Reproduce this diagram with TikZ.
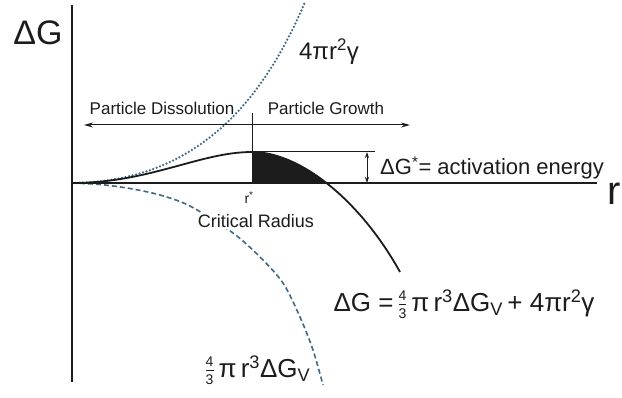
\documentclass[tikz,border=0pt]{standalone}
\usepackage{fontspec}
\setmainfont{Liberation Sans}
\usetikzlibrary{arrows.meta}
\definecolor{inkc}{RGB}{28,28,28}
\definecolor{termc}{RGB}{66,104,130}
\newcommand{\fsz}[1]{\fontsize{#1}{#1}\selectfont}
\newcommand{\frthird}{$\vcenter{\hbox{\fsz{14}4}\kern3.5pt\hrule height 0.8pt\kern3.5pt\hbox{\fsz{14}3}}$}
\begin{document}
\begin{tikzpicture}[x=1pt,y=-1pt,
  axis/.style={draw=inkc,line width=1.6pt},
  guide/.style={draw=inkc,line width=1pt},
  lbl/.style={inner sep=0pt,text=inkc},
  dotterm/.style={draw=termc,line width=2.5pt,line cap=round,dash pattern=on 0pt off 3.6pt},
  dashterm/.style={draw=termc,line width=1.6pt,dash pattern=on 5pt off 3pt},
  tip/.style={-{Stealth[length=9pt,width=5pt]}},
  dimtip/.style={{Stealth[length=6pt,width=4pt]}-{Stealth[length=6pt,width=4pt]}}]
\useasboundingbox (0,0) rectangle (622,398);
% axes
\coordinate (O) at (72,183);
\coordinate (ytop) at (72,5);
\coordinate (ybot) at (72,382);
\coordinate (xend) at (597,183);
\coordinate (rs) at (252,183);
\coordinate (rstop) at (252,113);
\coordinate (peak) at (252,152);
\coordinate (lvl) at (375,152);
\coordinate (dgtop) at (367,152);
\coordinate (dgbot) at (367,183);
\coordinate (split) at (252,125);
\coordinate (dissend) at (84,125);
\coordinate (growend) at (410,125);
\coordinate (tail) at (400,272);
% shaded barrier
\begin{scope}
\clip (252,183) rectangle (400,140);
\fill[inkc] (rs) -- (peak) .. controls (300,152) and (360,200) .. (tail) -- cycle;
\end{scope}
% surface and volume terms
\draw[dotterm] (O) .. controls (175,182) and (252,128) .. (305,2);
\draw[dashterm] plot[smooth] coordinates {(72,183) (100,184.5) (130,188.5) (160,195) (190,206) (233,233) (260,257) (283,283) (300,317) (313,350) (323,385)};
% total
\draw[axis] (ytop) -- (ybot);
\draw[axis] (O) -- (xend);
\draw[axis,line width=1.8pt] (O) .. controls (150,183) and (200,152) .. (peak) .. controls (300,152) and (360,200) .. (tail);
\draw[guide] (rs) -- (rstop);
\draw[guide] (peak) -- (lvl);
\draw[guide,dimtip] (dgtop) -- (dgbot);
\draw[guide,tip] (split) -- (dissend);
\draw[guide,tip] (split) -- (growend);
% labels
\node[lbl] (dG) at (38,33) {\fsz{34}ΔG};
\node[lbl,anchor=base west] (r) at (607,205) {\fsz{40}r};
\node[lbl] (diss) at (162,108) {\fsz{17}Particle Dissolution};
\node[lbl] (grow) at (326,108) {\fsz{17}Particle Growth};
\node[lbl] (act) at (492,168) {\fsz{22}ΔG\textsuperscript{*}= activation energy};
\node[lbl] (rstar) at (249,198) {\fsz{14}r\textsuperscript{*}};
\node[lbl,fill=white,inner sep=1pt] (crit) at (256,221) {\fsz{18}Critical Radius};
\node[lbl] (surf) at (329,52) {\fsz{24}4πr\textsuperscript{2}γ};
\node[lbl] (total) at (464,304) {\fsz{26}ΔG =\kern5pt\frthird\kern5pt π\,r\textsuperscript{3}ΔG\textsubscript{V}\,+ 4πr\textsuperscript{2}γ};
\node[lbl] (vol) at (258,370) {\fsz{26}\frthird\kern5pt π\,r\textsuperscript{3}ΔG\textsubscript{V}};
\end{tikzpicture}
\end{document}
